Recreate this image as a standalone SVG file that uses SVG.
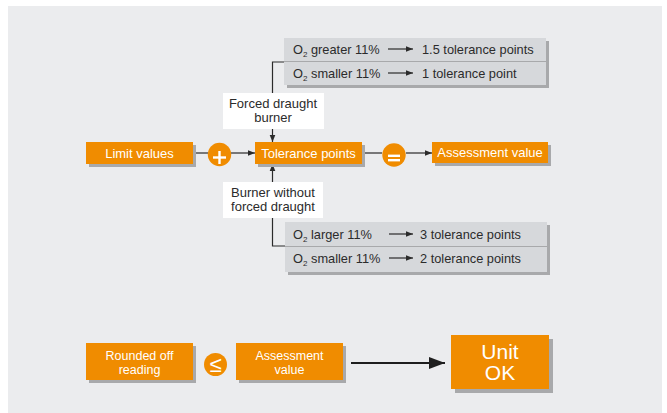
<svg xmlns="http://www.w3.org/2000/svg" width="667" height="413" viewBox="0 0 667 413">
  <defs>
    <marker id="arr" viewBox="0 0 10 10" refX="10" refY="5" markerWidth="7" markerHeight="7" markerUnits="userSpaceOnUse" orient="auto">
      <path d="M0,1 L10,5 L0,9 Z" fill="#2b2b2b"/>
    </marker>
    <marker id="arrBig" viewBox="0 0 16 12" refX="16" refY="6" markerWidth="16" markerHeight="12" markerUnits="userSpaceOnUse" orient="auto">
      <path d="M0,0 L16,6 L0,12 Z" fill="#1e1e1e"/>
    </marker>
  </defs>
  <style>
    text { font-family: "Liberation Sans", Arial, sans-serif; }
    .box { fill: #f08c00; }
    .shadow { fill: #a8a9ab; }
    .btxt { fill: #ffffff; font-size: 13px; text-anchor: middle; }
    .btxt2 { fill: #ffffff; font-size: 12.5px; text-anchor: middle; }
    .big { fill: #ffffff; font-size: 21px; text-anchor: middle; }
    .lbl { fill: #ffffff; }
    .ltxt { fill: #2b2b2b; font-size: 13px; text-anchor: middle; }
    .tbl { fill: #d6d8db; }
    .ttxt { fill: #2b2b2b; font-size: 12.8px; }
    .sub { font-size: 8px; }
    .line { stroke: #2b2b2b; stroke-width: 1.2; fill: none; }
    .op { stroke: #ffffff; stroke-width: 2.4; fill: none; }
  </style>

  <!-- panel -->
  <rect x="8" y="6" width="654" height="407" fill="#ebecee"/>

  <!-- forced draught table -->
  <g id="table-forced">
    <rect class="shadow" x="287" y="41" width="262" height="47"/>
    <rect class="tbl" x="284" y="38" width="262" height="47"/>
    <line x1="284" y1="61.5" x2="546" y2="61.5" stroke="#a8a9ab" stroke-width="1"/>
    <text class="ttxt" x="293" y="53.5">O<tspan class="sub" dy="3">2</tspan><tspan dy="-3"> greater 11%</tspan></text>
    <line class="line" x1="388" y1="49" x2="413" y2="49" marker-end="url(#arr)"/>
    <text class="ttxt" x="422" y="53.5">1.5 tolerance points</text>
    <text class="ttxt" x="293" y="77.5">O<tspan class="sub" dy="3">2</tspan><tspan dy="-3"> smaller 11%</tspan></text>
    <line class="line" x1="388" y1="73" x2="413" y2="73" marker-end="url(#arr)"/>
    <text class="ttxt" x="422" y="77.5">1 tolerance point</text>
  </g>

  <!-- non forced draught table -->
  <g id="table-natural">
    <rect class="shadow" x="288" y="225" width="262" height="50"/>
    <rect class="tbl" x="285" y="222" width="262" height="50"/>
    <line x1="285" y1="246.5" x2="547" y2="246.5" stroke="#a8a9ab" stroke-width="1"/>
    <text class="ttxt" x="293" y="238.5">O<tspan class="sub" dy="3">2</tspan><tspan dy="-3"> larger 11%</tspan></text>
    <line class="line" x1="389" y1="234" x2="413" y2="234" marker-end="url(#arr)"/>
    <text class="ttxt" x="420" y="238.5">3 tolerance points</text>
    <text class="ttxt" x="293" y="262.5">O<tspan class="sub" dy="3">2</tspan><tspan dy="-3"> smaller 11%</tspan></text>
    <line class="line" x1="389" y1="258" x2="413" y2="258" marker-end="url(#arr)"/>
    <text class="ttxt" x="420" y="262.5">2 tolerance points</text>
  </g>

  <!-- connectors -->
  <g id="connectors">
    <line class="line" x1="193" y1="153" x2="208" y2="153"/>
    <line class="line" x1="231" y1="153" x2="255" y2="153" marker-end="url(#arr)"/>
    <line class="line" x1="362" y1="153" x2="382" y2="153"/>
    <line class="line" x1="406" y1="153" x2="432" y2="153" marker-end="url(#arr)"/>
    <polyline class="line" points="284,62 272.5,62 272.5,93"/>
    <line class="line" x1="272.5" y1="129" x2="272.5" y2="142" marker-end="url(#arr)"/>
    <polyline class="line" points="285,246 272.5,246 272.5,218"/>
    <line class="line" x1="272.5" y1="182" x2="272.5" y2="164" marker-end="url(#arr)"/>
    <line x1="351" y1="363" x2="445" y2="363" stroke="#1e1e1e" stroke-width="2" marker-end="url(#arrBig)"/>
  </g>

  <!-- labels -->
  <g id="label-forced">
    <rect class="lbl" x="223" y="93" width="101" height="36"/>
    <text class="ltxt" x="273" y="108">Forced draught</text>
    <text class="ltxt" x="273" y="122">burner</text>
  </g>
  <g id="label-natural">
    <rect class="lbl" x="223" y="182" width="100" height="36"/>
    <text class="ltxt" x="273" y="197">Burner without</text>
    <text class="ltxt" x="273" y="211">forced draught</text>
  </g>

  <!-- main row -->
  <g id="limit-values">
    <rect class="shadow" x="89" y="145" width="107" height="22"/>
    <rect class="box" x="86" y="142" width="107" height="22"/>
    <text class="btxt" x="139.5" y="157.5">Limit values</text>
  </g>
  <g id="op-plus">
    <circle cx="219.5" cy="154.5" r="11.7" fill="#f08c00"/>
    <line class="op" x1="213" y1="157.5" x2="226" y2="157.5"/>
    <line class="op" x1="219.5" y1="151" x2="219.5" y2="164"/>
  </g>
  <g id="tolerance-points">
    <rect class="shadow" x="258" y="145" width="107" height="22"/>
    <rect class="box" x="255" y="142" width="107" height="22"/>
    <text class="btxt" x="308.5" y="157.5">Tolerance points</text>
  </g>
  <g id="op-equals">
    <circle cx="394" cy="155" r="11.7" fill="#f08c00"/>
    <line class="op" x1="388" y1="155.8" x2="400" y2="155.8" stroke-width="2"/>
    <line class="op" x1="388" y1="160.2" x2="400" y2="160.2" stroke-width="2"/>
  </g>
  <g id="assessment-value">
    <rect class="shadow" x="435" y="145" width="116" height="21"/>
    <rect class="box" x="432" y="142" width="116" height="21"/>
    <text class="btxt" x="490" y="157">Assessment value</text>
  </g>

  <!-- result row -->
  <g id="rounded-reading">
    <rect class="shadow" x="89" y="346" width="107" height="37"/>
    <rect class="box" x="86" y="343" width="107" height="37"/>
    <text class="btxt2" x="139.5" y="359.5">Rounded off</text>
    <text class="btxt2" x="139.5" y="373.5">reading</text>
  </g>
  <g id="op-le">
    <circle cx="215.5" cy="364.5" r="11.5" fill="#f08c00"/>
    <text x="215.5" y="371.5" fill="#ffffff" font-size="22" text-anchor="middle">≤</text>
  </g>
  <g id="assessment-value-2">
    <rect class="shadow" x="239" y="346" width="107" height="37"/>
    <rect class="box" x="236" y="343" width="107" height="37"/>
    <text class="btxt2" x="289.5" y="359.5">Assessment</text>
    <text class="btxt2" x="289.5" y="373.5">value</text>
  </g>
  <g id="unit-ok">
    <rect class="shadow" x="455" y="339" width="98" height="54"/>
    <rect class="box" x="451" y="335" width="98" height="54"/>
    <text class="big" x="500" y="359">Unit</text>
    <text class="big" x="500" y="380">OK</text>
  </g>
</svg>
